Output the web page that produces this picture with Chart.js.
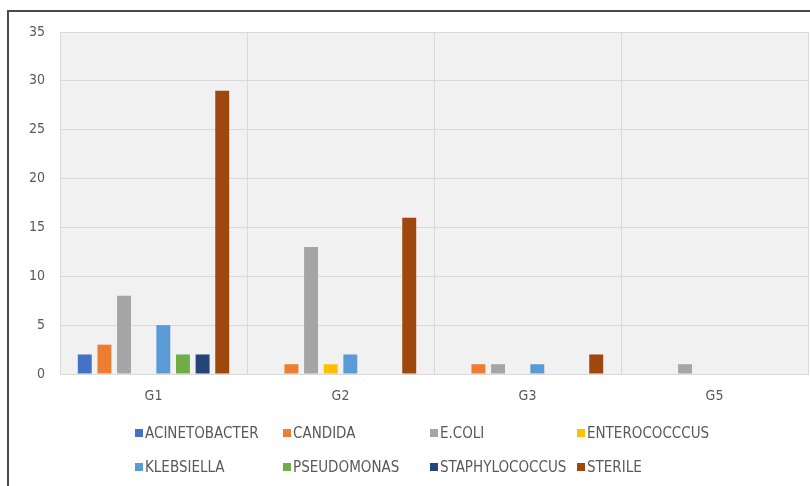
<!DOCTYPE html>
<html>
<head>
<meta charset="utf-8">
<script src="https://cdn.jsdelivr.net/npm/chart.js@4/dist/chart.umd.min.js"></script>
<style>
  html, body { margin: 0; padding: 0; background: #fff; overflow: hidden; }
  #wrap { position: relative; width: 810px; height: 486px; overflow: hidden; }
  #frame { position: absolute; left: 7px; top: 10px; width: 900px; height: 600px;
           border-top: 2px solid #4a4a4a; border-left: 2px solid #4a4a4a; }
  #chart { position: absolute; left: 0; top: 0; }
  #legend { position: absolute; left: 0; top: 0; width: 810px; height: 486px; pointer-events: none;
            font-family: 'Liberation Sans Narrow', 'DejaVu Sans Condensed', sans-serif; font-size: 15px; color: #595959; }
  .item { position: absolute; display: flex; align-items: center; white-space: nowrap; }
  .box { width: 8px; height: 8px; margin-right: 2px; }
</style>
</head>
<body>
<div id="wrap">
  <div id="frame"></div>
  <canvas id="chart" width="810" height="486"></canvas>
  <div id="legend"></div>
</div>
<script>
// Groups on the category axis
const categories = ['G1', 'G2', 'G3', 'G5'];

// Organism counts per group
const acinetobacter  = [2, 0, 0, 0];
const candida        = [3, 1, 1, 0];
const ecoli          = [8, 13, 1, 1];
const enterococcus   = [0, 1, 0, 0];
const klebsiella     = [5, 2, 1, 0];
const pseudomonas    = [2, 0, 0, 0];
const staphylococcus = [2, 0, 0, 0];
const sterile        = [29, 16, 2, 0];

const seriesNames = ['ACINETOBACTER', 'CANDIDA', 'E.COLI', 'ENTEROCOCCCUS',
                     'KLEBSIELLA', 'PSEUDOMONAS', 'STAPHYLOCOCCUS', 'STERILE'];
const seriesValues = [acinetobacter, candida, ecoli, enterococcus,
                      klebsiella, pseudomonas, staphylococcus, sterile];
const seriesColors = ['#4472C4', '#ED7D31', '#A5A5A5', '#FFC000',
                      '#5B9BD5', '#70AD47', '#264478', '#9E480E'];

const yTicks = [0, 5, 10, 15, 20, 25, 30, 35];

const fontFamily = "'Liberation Sans Narrow', 'DejaVu Sans Condensed', sans-serif";

// Light plot-area fill behind the bars
const plotBackground = {
  id: 'plotBackground',
  beforeDraw(chart) {
    const { ctx, chartArea: a } = chart;
    ctx.save();
    ctx.fillStyle = '#f1f1f1';
    ctx.fillRect(a.left, a.top, a.right - a.left, a.bottom - a.top);
    ctx.restore();
  }
};

const chart = new Chart(document.getElementById('chart'), {
  type: 'bar',
  data: {
    labels: categories,
    datasets: seriesNames.map((name, i) => ({
      label: name,
      data: seriesValues[i],
      backgroundColor: seriesColors[i],
      borderWidth: 0,
      categoryPercentage: 0.84,
      barPercentage: 0.71
    }))
  },
  options: {
    responsive: false,
    animation: false,
    layout: { padding: { left: 0, top: 32, right: 2, bottom: 72 } },
    plugins: { legend: { display: false }, tooltip: { enabled: false } },
    scales: {
      x: {
        offset: true,
        grid: { offset: true, color: '#d9d9d9', drawTicks: false },
        border: { display: true, color: '#d9d9d9' },
        ticks: { color: '#595959', font: { family: fontFamily, size: 14 }, padding: 14 },
        afterFit(scale) { scale.height = 40; }
      },
      y: {
        min: 0,
        max: 35,
        afterBuildTicks(scale) { scale.ticks = yTicks.map(v => ({ value: v })); },
        grid: { color: '#d9d9d9', drawTicks: false },
        border: { display: false },
        ticks: { color: '#595959', font: { family: fontFamily, size: 14 }, padding: 15 },
        afterFit(scale) { scale.width = 60; }
      }
    }
  },
  plugins: [plotBackground]
});

// Legend laid out in a fixed 4-column grid under the chart
const legend = document.getElementById('legend');
const colX = [135, 283, 430, 577];
const rowY = [433, 467];
seriesNames.forEach((name, i) => {
  const item = document.createElement('div');
  item.className = 'item';
  item.style.left = colX[i % 4] + 'px';
  item.style.top = (rowY[Math.floor(i / 4)] - 9) + 'px';
  item.style.height = '18px';
  const box = document.createElement('span');
  box.className = 'box';
  box.style.background = seriesColors[i];
  const text = document.createElement('span');
  text.textContent = name;
  item.appendChild(box);
  item.appendChild(text);
  legend.appendChild(item);
});
</script>
</body>
</html>
